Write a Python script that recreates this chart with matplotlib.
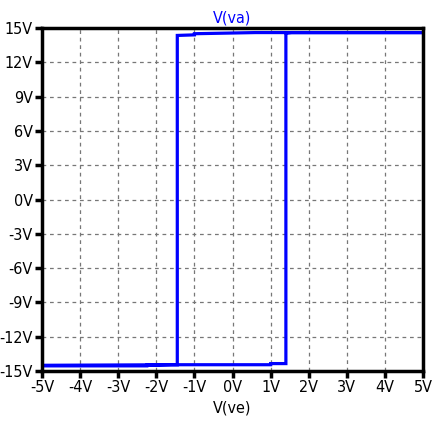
"""
Hysteresis of a comparator: V(va) versus V(ve), LTspice style.
"""

import matplotlib
matplotlib.use("Agg")
import matplotlib.pyplot as plt

# sweep up (-5 -> 5) then back down (5 -> -5)
ve = [-5.0, -2.25, -2.25, -1.6, 1.0, 1.0, 1.4, 1.4, 1.55, 5.0,
      5.0, 0.6, -1.0, -1.0, -1.45, -1.45, -5.0]
va = [-14.55, -14.55, -14.5, -14.45, -14.45, -14.35, -14.35, 14.55, 14.6, 14.6,
      14.6, 14.6, 14.5, 14.4, 14.35, -14.45, -14.5]

xticks = [-5, -4, -3, -2, -1, 0, 1, 2, 3, 4, 5]
yticks = [-15, -12, -9, -6, -3, 0, 3, 6, 9, 12, 15]

font = ["DejaVu Sans Condensed", "DejaVu Sans"]
kw = dict(family=font, stretch="condensed", fontsize=11.5)

fig = plt.figure(figsize=(4.40, 4.41), dpi=100)
ax = fig.add_axes([0.0955, 0.1587, 0.866, 0.7778])

ax.plot(ve, va, color="#0000ff", lw=2.3, solid_joinstyle="miter")

ax.set_xlim(-5, 5)
ax.set_ylim(-15, 15)
ax.set_xticks(xticks)
ax.set_yticks(yticks)
ax.set_xticklabels([f"{t}V" for t in xticks], **kw)
ax.set_yticklabels([f"{t}V" for t in yticks], **kw)

ax.grid(True, color="#777777", linestyle=(0, (3, 3)), lw=0.9)
for s in ax.spines.values():
    s.set_linewidth(2.5)
ax.tick_params(direction="out", length=5, width=2.5, pad=1.5)

ax.set_xlabel("V(ve)", labelpad=4, **kw)
ax.set_title("V(va)", color="#0000ff", pad=4, **kw)

plt.savefig("out.png", dpi=100)
